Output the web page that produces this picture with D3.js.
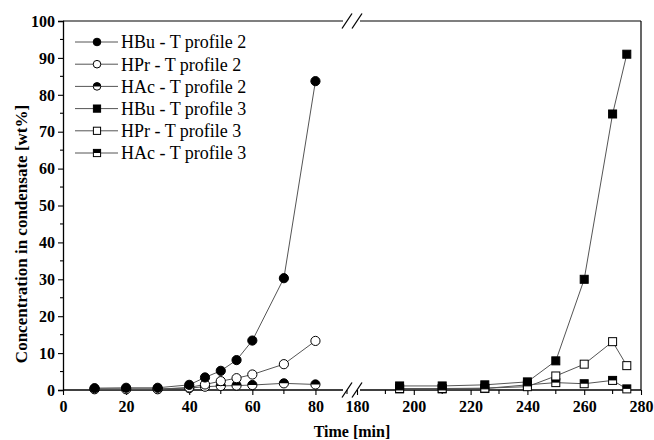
<!DOCTYPE html>
<html>
<head>
<meta charset="utf-8">
<script src="https://cdn.jsdelivr.net/npm/d3@7/dist/d3.min.js"></script>
<style>
  html, body { margin: 0; padding: 0; background: #fff; }
  svg { display: block; }
  text { font-family: "Liberation Serif", "Times New Roman", serif; fill: #000; }
</style>
</head>
<body>
<svg id="chart" width="654" height="440"></svg>
<script>
// Time points (min) for each temperature profile
const timeP2 = [10, 20, 30, 40, 45, 50, 55, 60, 70, 80];
const timeP3 = [195, 210, 225, 240, 250, 260, 270, 275];

// Concentrations in condensate (wt%)
const hbuP2 = [0.5, 0.6, 0.6, 1.4, 3.4, 5.2, 8.1, 13.4, 30.3, 83.7];
const hprP2 = [0.2, 0.2, 0.2, 0.7, 1.5, 2.4, 3.2, 4.2, 7.0, 13.3];
const hacP2 = [0.3, 0.3, 0.3, 0.5, 0.9, 1.1, 1.2, 1.35, 1.8, 1.5];
const hbuP3 = [1.1, 1.1, 1.4, 2.2, 7.9, 30.0, 74.8, 91.0];
const hprP3 = [0.4, 0.4, 0.5, 0.9, 3.8, 7.0, 13.1, 6.6];
const hacP3 = [0.3, 0.3, 0.4, 1.4, 2.0, 1.7, 2.6, 0.3];

// Axis tick values
const xTicksLeft = [0, 20, 40, 60, 80];
const xMinorLeft = [10, 30, 50, 70, 90];
const xTicksRight = [180, 200, 220, 240, 260, 280];
const xMinorRight = [190, 210, 230, 250, 270];
const yTicks = [0, 10, 20, 30, 40, 50, 60, 70, 80, 90, 100];

const legendLabels = [
  "HBu - T profile 2", "HPr - T profile 2", "HAc - T profile 2",
  "HBu - T profile 3", "HPr - T profile 3", "HAc - T profile 3"
];

const svg = d3.select("#chart");
const plotL = 63, plotR = 641, plotT = 21, plotB = 390;
const breakL = 347, breakR = 357;

// Broken x axis: two linear segments
const xL = d3.scaleLinear().domain([0, 90]).range([plotL, breakL]);
const xR = d3.scaleLinear().domain([180, 280]).range([breakR, plotR]);
const y = d3.scaleLinear().domain([0, 100]).range([plotB, plotT]);

const lineCol = "#555";

// Frame: top, right
svg.append("line").attr("x1", plotL).attr("x2", breakL - 4).attr("y1", plotT).attr("y2", plotT)
  .attr("stroke", lineCol).attr("stroke-width", 1.6);
svg.append("line").attr("x1", breakR + 3).attr("x2", plotR).attr("y1", plotT).attr("y2", plotT)
  .attr("stroke", lineCol).attr("stroke-width", 1.6);
svg.append("line").attr("x1", plotR).attr("x2", plotR).attr("y1", plotT).attr("y2", plotB)
  .attr("stroke", "#000").attr("stroke-width", 1.2);

// Left y axis
const gy = svg.append("g").attr("transform", `translate(${plotL},0)`)
  .call(d3.axisLeft(y).tickValues(yTicks).tickSize(5).tickPadding(3).tickFormat(d3.format("d")));
gy.select(".domain").attr("stroke", "#000").attr("stroke-width", 1.3);
gy.selectAll(".tick line").attr("stroke", "#000").attr("stroke-width", 1.1);
gy.selectAll(".tick text").attr("font-family", "Liberation Serif").attr("font-weight", "bold")
  .attr("font-size", 16).attr("dy", "0.33em");
gy.append("g").selectAll("line").data(d3.range(5, 100, 10)).join("line")
  .attr("x1", -3).attr("x2", 0).attr("y1", d => y(d)).attr("y2", d => y(d))
  .attr("stroke", "#000").attr("stroke-width", 1.1);

// Bottom x axis, two segments
function bottomAxis(scale, major, minor) {
  const g = svg.append("g").attr("transform", `translate(0,${plotB})`)
    .call(d3.axisBottom(scale).tickValues(major).tickSize(5).tickPadding(6).tickFormat(d3.format("d")));
  g.select(".domain").remove();
  g.selectAll(".tick line").attr("stroke", "#000").attr("stroke-width", 1.1);
  g.selectAll(".tick text").attr("font-family", "Liberation Serif").attr("font-weight", "bold")
    .attr("font-size", 16);
  g.append("g").selectAll("line").data(minor).join("line")
    .attr("x1", d => scale(d)).attr("x2", d => scale(d)).attr("y1", 0).attr("y2", 4)
    .attr("stroke", "#000").attr("stroke-width", 1.1);
  return g;
}
bottomAxis(xL, xTicksLeft, xMinorLeft);
bottomAxis(xR, xTicksRight, xMinorRight);
svg.append("line").attr("x1", plotL).attr("x2", breakL - 4).attr("y1", plotB).attr("y2", plotB)
  .attr("stroke", "#000").attr("stroke-width", 1.3);
svg.append("line").attr("x1", breakR + 3).attr("x2", plotR).attr("y1", plotB).attr("y2", plotB)
  .attr("stroke", "#000").attr("stroke-width", 1.3);

// Break marks on top and bottom
[plotT, plotB].forEach(yy => {
  [-5, 5].forEach(off => {
    const cx = (breakL + breakR) / 2 + off;
    svg.append("line").attr("x1", cx - 5).attr("x2", cx + 5)
      .attr("y1", yy + 7.5).attr("y2", yy - 7.5)
      .attr("stroke", "#000").attr("stroke-width", 1.3);
  });
});

// Axis titles
svg.append("text").attr("x", (plotL + plotR) / 2).attr("y", 437).attr("text-anchor", "middle")
  .attr("font-weight", "bold").attr("font-size", 16).text("Time [min]");
svg.append("text").attr("transform", "translate(27,234) rotate(-90)")
  .attr("text-anchor", "middle").attr("font-weight", "bold").attr("font-size", 17)
  .text("Concentration in condensate [wt%]");

// Marker drawing
function marker(g, shape, fill, size) {
  const r = size;
  if (shape === "circle") {
    g.append("circle").attr("r", r).attr("fill", fill === "full" ? "#000" : "#fff")
      .attr("stroke", "#000").attr("stroke-width", 1);
    if (fill === "half") {
      g.append("path").attr("d", `M${-r},0 A${r},${r} 0 0 1 ${r},0 Z`).attr("fill", "#000");
    }
  } else {
    g.append("rect").attr("x", -r).attr("y", -r).attr("width", 2 * r).attr("height", 2 * r)
      .attr("fill", fill === "full" ? "#000" : "#fff").attr("stroke", "#000").attr("stroke-width", 1);
    if (fill === "half") {
      g.append("rect").attr("x", -r).attr("y", -r).attr("width", 2 * r).attr("height", r).attr("fill", "#000");
    }
  }
}

const series = [
  { t: timeP2, v: hbuP2, x: xL, shape: "circle", fill: "full" },
  { t: timeP2, v: hprP2, x: xL, shape: "circle", fill: "open" },
  { t: timeP2, v: hacP2, x: xL, shape: "circle", fill: "half" },
  { t: timeP3, v: hbuP3, x: xR, shape: "square", fill: "full" },
  { t: timeP3, v: hprP3, x: xR, shape: "square", fill: "open" },
  { t: timeP3, v: hacP3, x: xR, shape: "square", fill: "half" }
];

const plot = svg.append("g");
// Connecting lines first, then markers on top
series.forEach(s => {
  const pts = s.t.map((t, i) => [s.x(t), y(s.v[i])]);
  plot.append("path").attr("d", d3.line()(pts)).attr("fill", "none")
    .attr("stroke", lineCol).attr("stroke-width", 1);
});
series.slice().reverse().forEach(s => {
  s.t.forEach((t, i) => {
    const g = plot.append("g").attr("transform", `translate(${s.x(t)},${y(s.v[i])})`);
    marker(g, s.shape, s.fill, s.shape === "circle" ? 4.6 : 4);
  });
});

// Legend
const leg = svg.append("g");
series.forEach((s, i) => {
  const yy = 42 + i * 22.2;
  leg.append("line").attr("x1", 75).attr("x2", 118).attr("y1", yy).attr("y2", yy)
    .attr("stroke", lineCol).attr("stroke-width", 1);
  const g = leg.append("g").attr("transform", `translate(97,${yy})`);
  marker(g, s.shape, s.fill, s.shape === "circle" ? 3.8 : 3.6);
  leg.append("text").attr("x", 121).attr("y", yy).attr("dy", "0.35em")
    .attr("font-size", 18).text(legendLabels[i]);
});
</script>
</body>
</html>
